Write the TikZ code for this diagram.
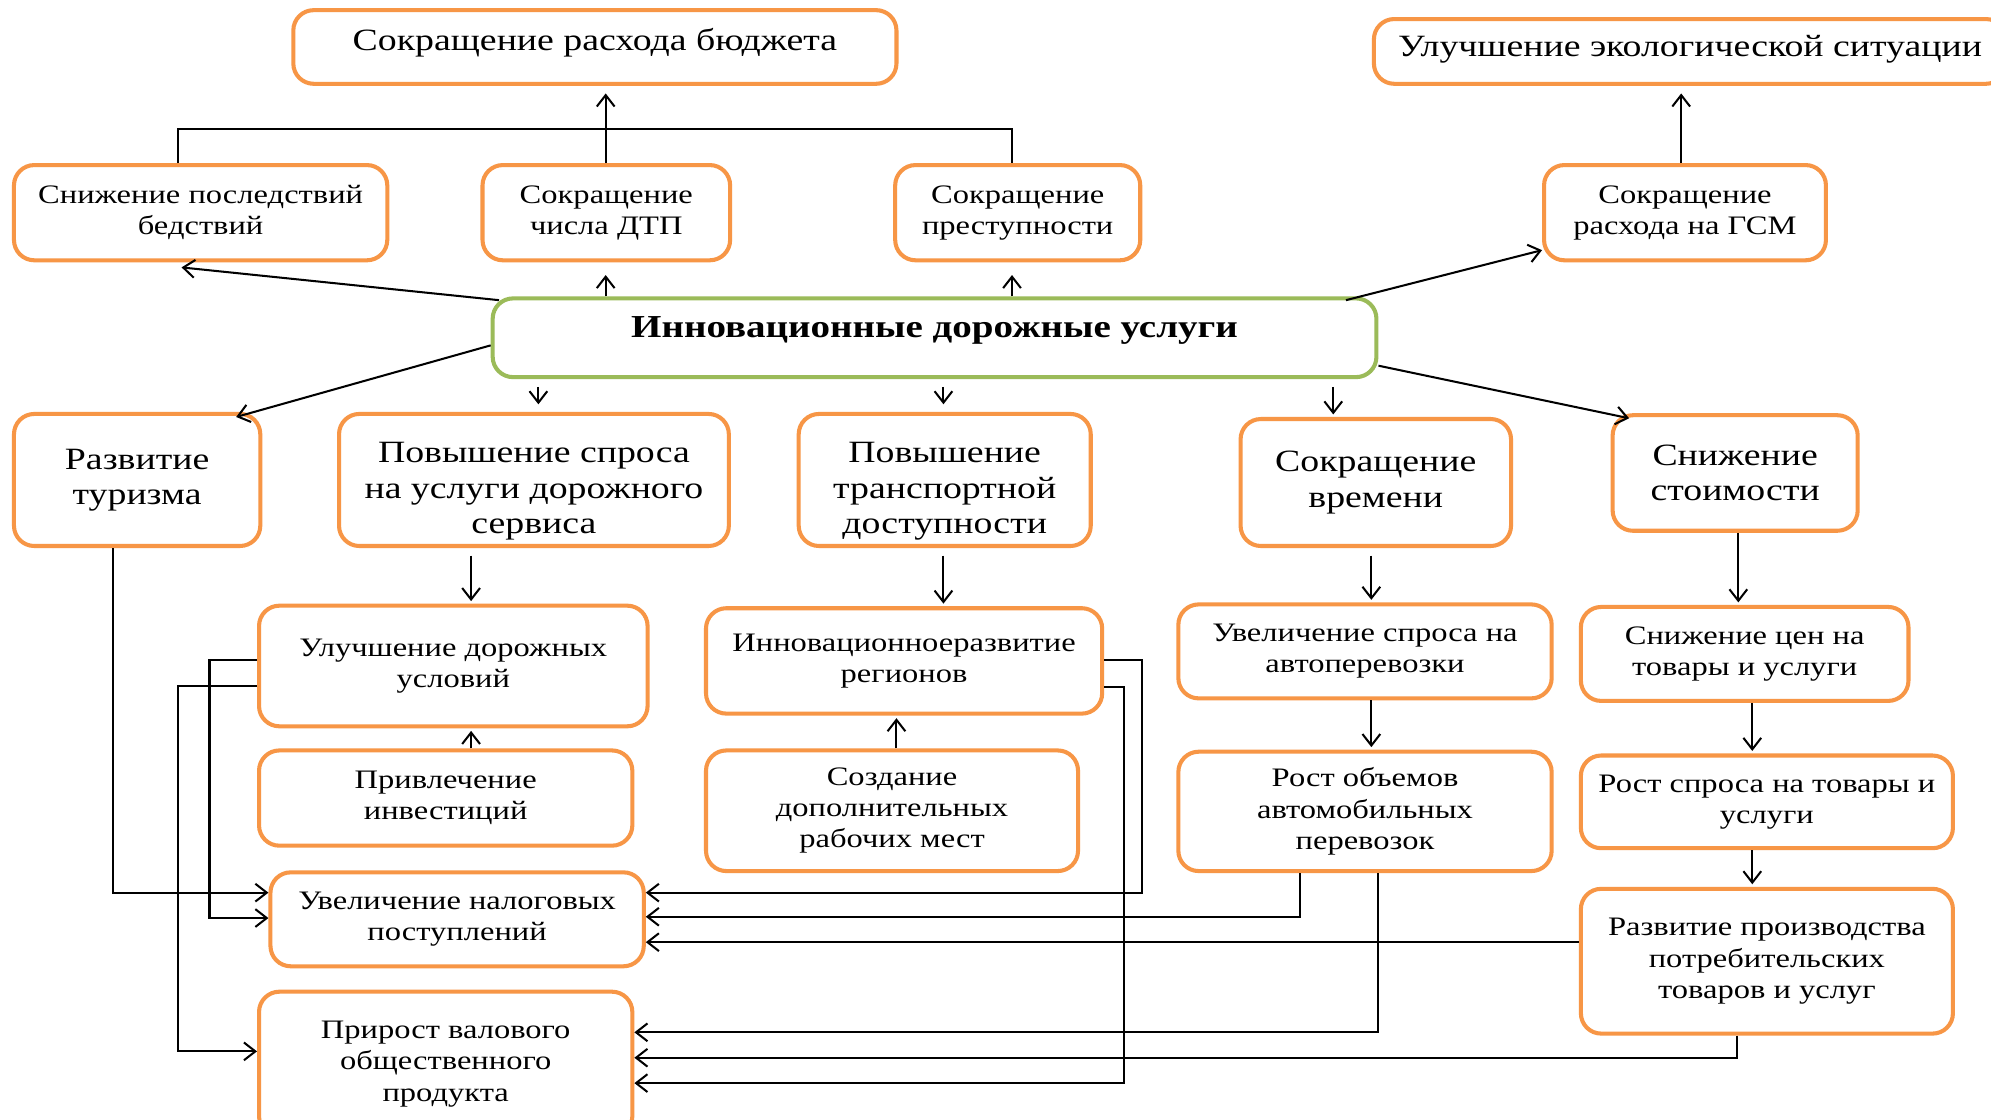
\documentclass[tikz,border=0pt]{standalone}
\usepackage{fontspec}
\setmainfont{Liberation Serif}[FakeStretch=1.22]
\usetikzlibrary{arrows.meta,calc}
\definecolor{bor}{HTML}{F79646}
\definecolor{grn}{HTML}{9BBB59}
\newcommand\bx[7][]{%
  \pgfmathsetmacro\bxw{(#5-#3)/2}%
  \pgfmathsetmacro\bxh{(#6-#4)/2}%
  \node[box,#1,minimum width=\bxw pt,minimum height=\bxh pt] (#2) at ({(#3+#5)/2},{(#4+#6)/2}) {#7};}
\begin{document}
\begin{tikzpicture}[x=0.5pt,y=-0.5pt,
  box/.style={draw=bor,line width=1.6pt,rounded corners=8pt,fill=white,align=center,inner sep=1pt,
    font=\fontsize{10.5}{12.3}\selectfont},
  big/.style={font=\fontsize{12.2}{13.9}\selectfont},
  arr/.style={-{Straight Barb[length=4.5pt,width=7pt]},line width=0.8pt},
  ln/.style={line width=0.8pt}]
\clip (0,0) rectangle (1568,882);
\fill[white] (0,0) rectangle (1568,882);
\foreach \v in {89,140,143,165,186,371,393,424,477,706,743,797,885,899,1024,1050,1060,1080,1085,1283,1324,1368,1369,1380}
  {\coordinate (vx\v) at (\v,0);}
\foreach \v in {197,272,288,520,540,541,703,722,723,742,813,828,833,853}
  {\coordinate (vy\v) at (0,\v);}
% boxes
\bx[big,text height=10pt,text depth=7pt]{B1}{231}{8}{706}{66}{Сокращение расхода бюджета}
\bx[big,text height=10pt,text depth=6pt]{E1}{1082}{15}{1580}{66}{Улучшение экологической ситуации}
\bx{S1}{11}{130}{305}{205}{Снижение последствий\\бедствий}
\bx{S2}{380}{130}{575}{205}{Сокращение\\числа ДТП}
\bx{S3}{705}{130}{898}{205}{Сокращение\\преступности}
\bx{S4}{1216}{130}{1438}{205}{Сокращение\\расхода на ГСМ}
\bx[draw=grn,font=\bfseries\fontsize{12.6}{15}\selectfont,text height=10pt,text depth=10pt]{C}{388}{235}{1084}{297}{Инновационные дорожные услуги}
\bx[big]{R1}{11}{326}{205}{430}{Развитие\\туризма}
\bx[big,text height=42pt,text depth=0pt]{R2}{267}{326}{574}{430}{Повышение спроса\\на услуги дорожного\\сервиса}
\bx[big,text height=42pt,text depth=0pt]{R3}{629}{326}{859}{430}{Повышение\\транспортной\\доступности}
\bx[big]{R4}{977}{330}{1190}{430}{Сокращение\\времени}
\bx[big]{R5}{1270}{327}{1463}{418}{Снижение\\стоимости}
\bx{U1}{204}{477}{510}{572}{Улучшение дорожных\\условий}
\bx{U2}{556}{479}{868}{562}{Инновационноеразвитие\\регионов}
\bx{U3}{928}{476}{1222}{550}{Увеличение спроса на\\автоперевозки}
\bx{U4}{1245}{478}{1503}{552}{Снижение цен на\\товары и услуги}
\bx{P1}{204}{591}{498}{666}{Привлечение\\инвестиций}
\bx{P2}{556}{591}{849}{686}{Создание\\дополнительных\\рабочих мест}
\bx{P3}{928}{592}{1222}{686}{Рост объемов\\автомобильных\\перевозок}
\bx{P4}{1245}{595}{1538}{668}{Рост спроса на товары и\\услуги}
\bx{T1}{213}{687}{507}{761}{Увеличение налоговых\\поступлений}
\bx{D1}{1245}{700}{1538}{814}{Развитие производства\\потребительских\\товаров и услуг}
\bx{G1}{204}{781}{498}{895}{Прирост валового\\общественного\\продукта}
% top connectors
\draw[arr,shorten >=3pt] (S2.north -| vx477) -- (B1.south -| vx477);
\draw[ln] (S1.north -| vx140) -- ++(0,-27) -| (S3.north -| vx797);
\draw[arr,shorten >=3pt] (S4.north -| vx1324) -- (E1.south -| vx1324);
% from centre
\draw[arr] ($(C.north -| vx393)+(0,3)$) -- ($(S1.south -| vx143)+(0,4)$);
\draw[arr,shorten >=5pt] (C.north -| vx477) -- (S2.south -| vx477);
\draw[arr,shorten >=5pt] (C.north -| vx797) -- (S3.south -| vx797);
\draw[arr] ($(C.north -| vx1060)+(0,3)$) -- (S4.west |- vy197);
\draw[arr] (C.west |- vy272) -- ($(R1.north -| vx186)+(0,4)$);
\draw[arr,shorten <=3pt,shorten >=3pt] (C.south -| vx424) -- (R2.north -| vx424);
\draw[arr,shorten <=3pt,shorten >=3pt] (C.south -| vx743) -- (R3.north -| vx743);
\draw[arr,shorten <=3pt,shorten >=1pt] (C.south -| vx1050) -- (R4.north -| vx1050);
\draw[arr] (C.east |- vy288) -- ($(R5.north -| vx1283)+(0,4)$);
% second tier
\draw[arr,shorten <=3pt,shorten >=1pt] (R2.south -| vx371) -- (U1.north -| vx371);
\draw[arr,shorten <=3pt,shorten >=1pt] (R3.south -| vx743) -- (U2.north -| vx743);
\draw[arr,shorten <=3pt,shorten >=1pt] (R4.south -| vx1080) -- (U3.north -| vx1080);
\draw[arr,shorten >=1pt] (R5.south -| vx1369) -- (U4.north -| vx1369);
\draw[arr,shorten >=1pt] (P1.north -| vx371) -- (U1.south -| vx371);
\draw[arr,shorten >=1pt] (P2.north -| vx706) -- (U2.south -| vx706);
\draw[arr,shorten >=1pt] (U3.south -| vx1080) -- (P3.north -| vx1080);
\draw[arr,shorten >=1pt] (U4.south -| vx1380) -- (P4.north -| vx1380);
\draw[arr,shorten >=1pt] (P4.south -| vx1380) -- (D1.north -| vx1380);
% feedback lines
\draw[arr] (R1.south -| vx89) |- (T1.west |- vy703);
\draw[arr] (U1.west |- vy520) -| (vx165 |- vy723) -- (T1.west |- vy723);
\draw[arr] (U1.west |- vy540) -| (vx140 |- vy828) -- (G1.west |- vy828);
\draw[arr] (U2.east |- vy520) -| (vx899 |- vy703) -- (T1.east |- vy703);
\draw[arr] (U2.east |- vy541) -| (vx885 |- vy853) -- (G1.east |- vy853);
\draw[arr] (P3.south -| vx1024) |- (T1.east |- vy722);
\draw[arr] (P3.south -| vx1085) |- (G1.east |- vy813);
\draw[arr] (D1.west |- vy742) -- (T1.east |- vy742);
\draw[arr] (D1.south -| vx1368) |- (G1.east |- vy833);
\end{tikzpicture}
\end{document}
